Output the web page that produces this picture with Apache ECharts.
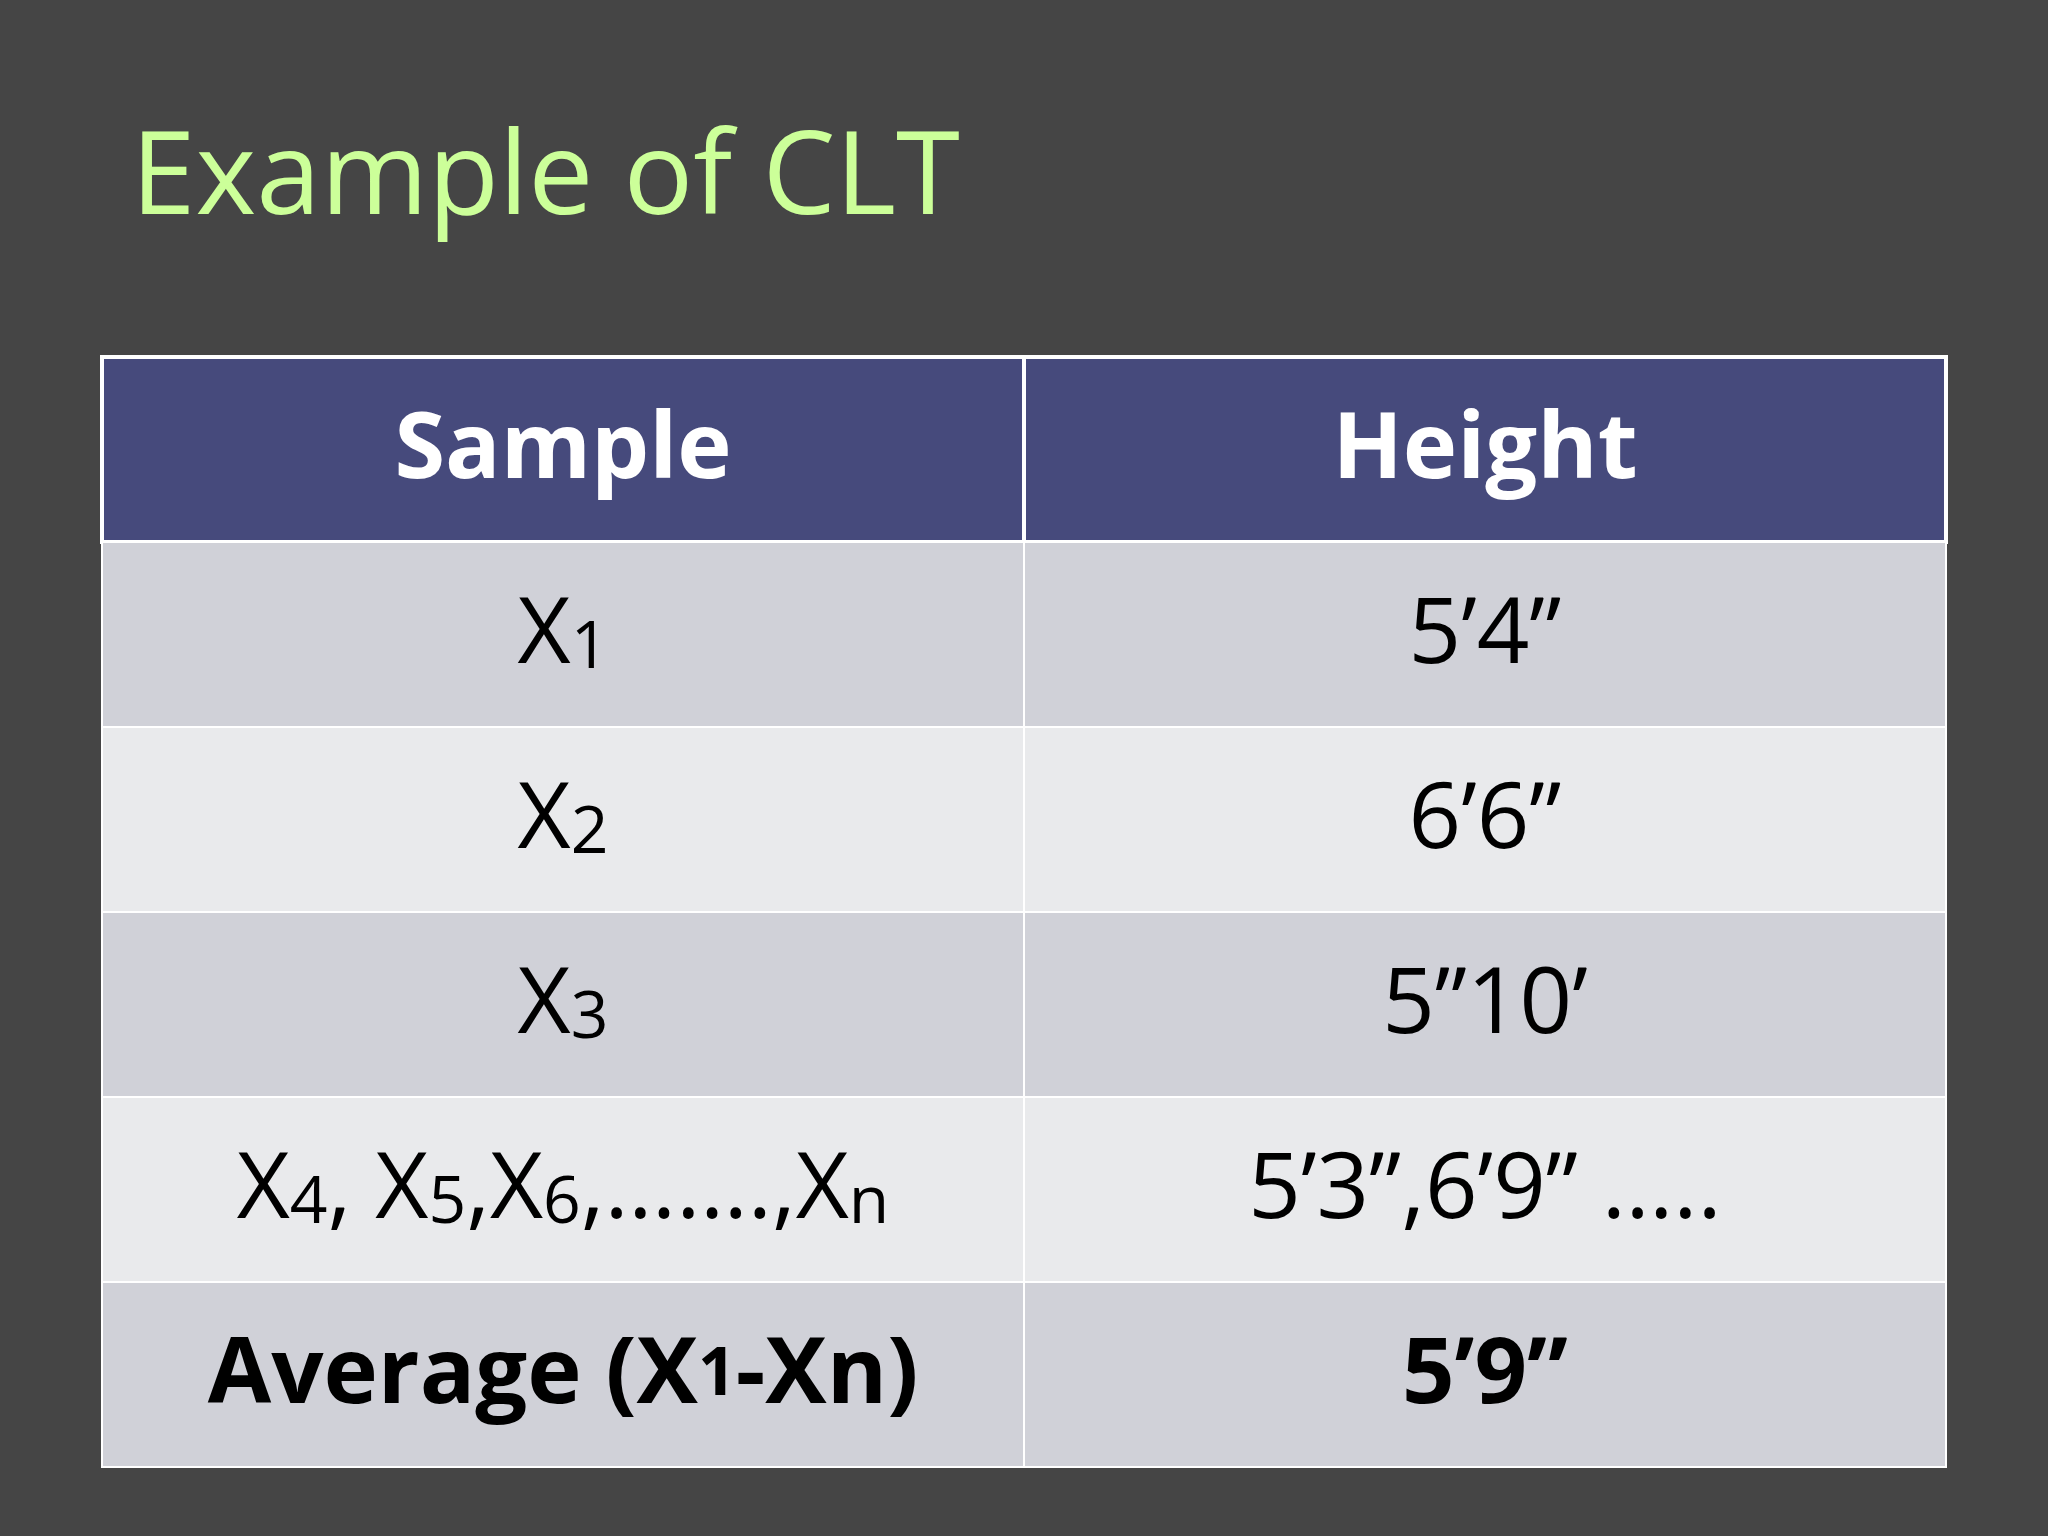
<!DOCTYPE html>
<html><head><meta charset="utf-8">
<script src="https://cdn.jsdelivr.net/npm/echarts@6/dist/echarts.min.js"></script>
<style>html,body{margin:0;background:#454545}#c{width:2048px;height:1536px}</style>
</head><body><div id="c"></div>
<script>
const title = 'Example of CLT';
const columns = ['Sample', 'Height'];
const sampleLabels = ['X{s|1}', 'X{s|2}', 'X{s|3}', 'X{s|4}, X{s|5},X{s|6},…….,X{s|n}', 'Average (X{sb|1}-Xn)'];
const heightLabels = ['5’4”', '6’6”', '5”10’', '5’3”,6’9” …..', '5’9”'];
const rows = ['header', 'r1', 'r2', 'r3', 'r4', 'avg'];

const cells = [];
columns.forEach((c, ci) => cells.push([ci, 0, c, 'head']));
sampleLabels.forEach((s, i) => {
  const kind = i === sampleLabels.length - 1 ? 'avg' : (i % 2 === 0 ? 'odd' : 'even');
  cells.push([0, i + 1, s, kind]);
  cells.push([1, i + 1, heightLabels[i], kind]);
});
const fills = {head: '#464a7c', odd: '#d0d1d8', even: '#e9eaec', avg: '#d0d1d8'};
const font = '"Open Sans", "Noto Sans", sans-serif';

const chart = echarts.init(document.getElementById('c'));
chart.setOption({
  backgroundColor: '#454545',
  title: {text: title, left: 126, top: 118,
    textStyle: {color: '#ccff99', fontSize: 116, fontWeight: 'normal', fontFamily: font}},
  grid: {left: 102, right: 102, top: 357, bottom: 69},
  xAxis: {type: 'category', data: columns, show: false},
  yAxis: {type: 'category', data: rows, inverse: true, show: false},
  series: [{
    type: 'custom',
    data: cells,
    renderItem: (params, api) => {
      const p = api.coord([api.value(0), api.value(1)]);
      const sz = api.size([1, 1]);
      const d = cells[params.dataIndex];
      const kind = d[3];
      const bold = kind === 'head' || kind === 'avg';
      const color = kind === 'head' ? '#ffffff' : '#000000';
      return {type: 'group', children: [
        {type: 'rect', shape: {x: p[0] - sz[0] / 2, y: p[1] - sz[1] / 2, width: sz[0], height: sz[1]},
          style: {fill: fills[kind], stroke: '#ffffff', lineWidth: kind === 'head' ? 4 : 2}},
        {type: 'text', x: p[0], y: p[1] + 2, style: {
          text: d[2], align: 'center', verticalAlign: 'middle',
          font: (bold ? 'bold ' : '') + '92px ' + font, fill: color,
          rich: {
            s: {fontSize: 66, fontFamily: font, fill: color, verticalAlign: 'bottom', padding: [0,0,0,0]},
            sb: {fontSize: 66, fontFamily: font, fontWeight: 'bold', fill: color}
          }
        }}
      ]};
    }
  }]
});
</script></body></html>
